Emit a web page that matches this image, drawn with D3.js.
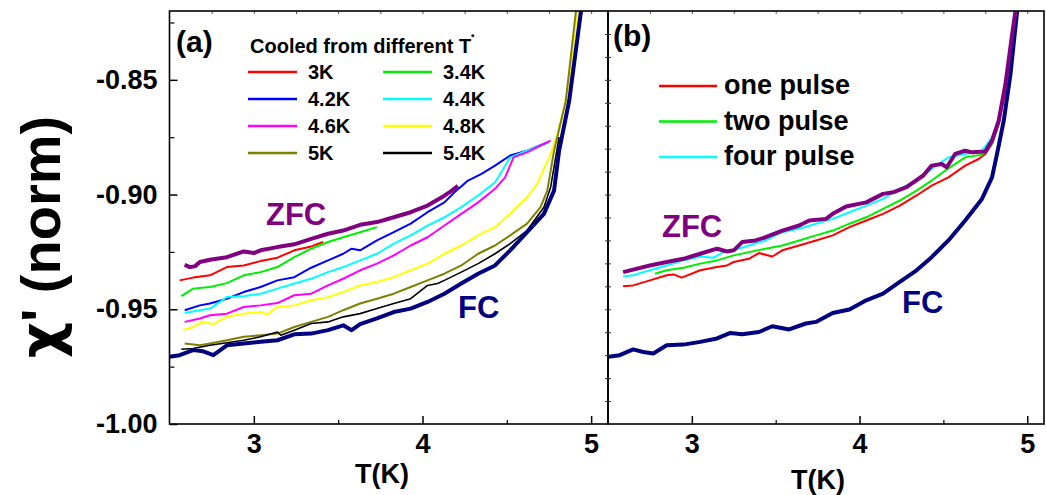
<!DOCTYPE html>
<html>
<head>
<meta charset="utf-8">
<script src="https://cdn.jsdelivr.net/npm/d3@7"></script>
<style>
  body { margin: 0; background: #fff; }
  svg text { font-family: "Liberation Sans", Arial, sans-serif; font-weight: bold; }
</style>
</head>
<body>
<svg id="chart" width="1046" height="495"></svg>
<script>
// ---- data: [T (K), chi' (norm)] ----
// panel (a): cooled from different T*
let zfcA = [[2.59,-0.9306],[2.62,-0.9316],[2.65,-0.9313],[2.68,-0.9294],[2.74,-0.9284],[2.84,-0.9273],[2.94,-0.9248],[3.0,-0.9255],[3.04,-0.9243],[3.14,-0.9229],[3.24,-0.9217],[3.34,-0.9193],[3.44,-0.9171],[3.53,-0.9157],[3.63,-0.9132],[3.73,-0.912],[3.83,-0.9099],[3.93,-0.9077],[4.03,-0.9048],[4.13,-0.9005],[4.17,-0.8985],[4.21,-0.8962]];
let fcA = [[2.5,-0.9707],[2.56,-0.97],[2.64,-0.9678],[2.7,-0.9683],[2.76,-0.97],[2.84,-0.9657],[2.94,-0.9649],[3.04,-0.9642],[3.14,-0.9635],[3.24,-0.9609],[3.34,-0.9606],[3.44,-0.9591],[3.53,-0.957],[3.58,-0.9591],[3.63,-0.9565],[3.73,-0.954],[3.83,-0.9512],[3.93,-0.9497],[4.03,-0.9468],[4.13,-0.9432],[4.23,-0.9388],[4.33,-0.9345],[4.43,-0.9309],[4.52,-0.9243],[4.62,-0.9164],[4.72,-0.9084],[4.78,-0.8983],[4.81,-0.8809],[4.87,-0.8591],[4.94,-0.82]];
let t3K = [[2.56,-0.9374],[2.64,-0.9362],[2.74,-0.9352],[2.84,-0.9316],[2.94,-0.9309],[3.04,-0.929],[3.14,-0.9275],[3.24,-0.9243],[3.34,-0.9226],[3.41,-0.9207]];
let t34K = [[2.57,-0.9443],[2.64,-0.941],[2.74,-0.9403],[2.84,-0.9386],[2.94,-0.9352],[3.04,-0.9338],[3.14,-0.9316],[3.24,-0.9273],[3.34,-0.9236],[3.44,-0.9207],[3.53,-0.9186],[3.63,-0.9164],[3.73,-0.9142]];
let t42K = [[2.59,-0.9504],[2.68,-0.9483],[2.74,-0.9475],[2.84,-0.9454],[2.94,-0.9425],[3.04,-0.9403],[3.14,-0.9374],[3.24,-0.936],[3.34,-0.9319],[3.44,-0.9287],[3.53,-0.9258],[3.58,-0.9236],[3.63,-0.9243],[3.73,-0.92],[3.83,-0.9164],[3.93,-0.9127],[4.03,-0.9077],[4.13,-0.9034],[4.19,-0.899],[4.27,-0.8939],[4.35,-0.891],[4.43,-0.8874],[4.52,-0.883],[4.62,-0.8809],[4.74,-0.8773]];
let t44K = [[2.59,-0.9516],[2.68,-0.9504],[2.74,-0.9497],[2.84,-0.9447],[2.94,-0.9443],[3.04,-0.9432],[3.14,-0.941],[3.24,-0.9388],[3.34,-0.9367],[3.44,-0.9338],[3.53,-0.9316],[3.63,-0.9287],[3.73,-0.9258],[3.83,-0.9214],[3.93,-0.9178],[4.03,-0.9135],[4.13,-0.9099],[4.23,-0.9055],[4.33,-0.9004],[4.43,-0.8947],[4.52,-0.8838],[4.62,-0.8809],[4.75,-0.8773]];
let t46K = [[2.59,-0.9555],[2.68,-0.954],[2.74,-0.9526],[2.84,-0.9519],[2.94,-0.949],[3.04,-0.9483],[3.14,-0.9473],[3.24,-0.9439],[3.34,-0.9432],[3.44,-0.9396],[3.53,-0.9367],[3.63,-0.933],[3.73,-0.9301],[3.83,-0.9265],[3.93,-0.9222],[4.03,-0.9186],[4.13,-0.9135],[4.23,-0.9084],[4.33,-0.9034],[4.43,-0.8975],[4.49,-0.8925],[4.54,-0.8838],[4.62,-0.8816],[4.7,-0.8787],[4.76,-0.8765]];
let t48K = [[2.58,-0.9591],[2.64,-0.9577],[2.7,-0.9555],[2.76,-0.9565],[2.84,-0.9533],[2.94,-0.9519],[3.04,-0.9512],[3.08,-0.9522],[3.14,-0.949],[3.24,-0.9483],[3.34,-0.9461],[3.44,-0.9447],[3.53,-0.9425],[3.63,-0.9396],[3.73,-0.9381],[3.83,-0.936],[3.93,-0.933],[4.03,-0.9301],[4.13,-0.9258],[4.23,-0.9222],[4.33,-0.9178],[4.43,-0.9142],[4.52,-0.9084],[4.62,-0.9012],[4.68,-0.8954],[4.76,-0.8823],[4.8,-0.8736],[4.84,-0.862],[4.88,-0.8447],[4.92,-0.82]];
let t5K = [[2.59,-0.9649],[2.68,-0.9657],[2.74,-0.9649],[2.84,-0.9635],[2.94,-0.962],[3.04,-0.9613],[3.14,-0.9606],[3.24,-0.9577],[3.34,-0.9555],[3.44,-0.9533],[3.53,-0.9504],[3.63,-0.9475],[3.73,-0.9454],[3.83,-0.9432],[3.93,-0.9403],[4.03,-0.9374],[4.13,-0.9345],[4.23,-0.9309],[4.33,-0.9258],[4.43,-0.9222],[4.52,-0.9178],[4.62,-0.9127],[4.7,-0.9055],[4.74,-0.8983],[4.78,-0.8809],[4.85,-0.8591],[4.91,-0.82]];
let t54K = [[2.57,-0.9674],[2.64,-0.9671],[2.74,-0.9657],[2.84,-0.9646],[2.94,-0.9635],[3.04,-0.962],[3.14,-0.9599],[3.16,-0.9613],[3.24,-0.9591],[3.34,-0.9562],[3.44,-0.9555],[3.53,-0.9533],[3.63,-0.9519],[3.73,-0.9497],[3.83,-0.9475],[3.93,-0.9454],[4.03,-0.9396],[4.09,-0.9388],[4.13,-0.9374],[4.23,-0.9338],[4.33,-0.9301],[4.43,-0.9258],[4.52,-0.9214],[4.62,-0.9157],[4.72,-0.9055],[4.76,-0.8968],[4.81,-0.875]];

// panel (b): pulses
let zfcB = [[2.59,-0.9338],[2.65,-0.9327],[2.75,-0.9309],[2.85,-0.9294],[2.95,-0.928],[3.05,-0.9258],[3.15,-0.9236],[3.21,-0.9248],[3.25,-0.9243],[3.3,-0.9207],[3.38,-0.92],[3.44,-0.9186],[3.54,-0.9157],[3.64,-0.9135],[3.7,-0.9113],[3.8,-0.9106],[3.84,-0.9084],[3.92,-0.9052],[4.04,-0.9034],[4.14,-0.8997],[4.2,-0.899],[4.28,-0.8968],[4.38,-0.8917],[4.43,-0.8874],[4.49,-0.8867],[4.52,-0.8881],[4.57,-0.8823],[4.63,-0.8809],[4.67,-0.8816],[4.75,-0.8812],[4.79,-0.8765],[4.83,-0.8678],[4.87,-0.8519],[4.91,-0.8301],[4.93,-0.82]];
let fcB = [[2.5,-0.9707],[2.57,-0.97],[2.65,-0.9675],[2.71,-0.9686],[2.77,-0.9693],[2.85,-0.9657],[2.95,-0.9654],[3.05,-0.9642],[3.15,-0.9627],[3.23,-0.9603],[3.3,-0.9609],[3.4,-0.9599],[3.48,-0.9574],[3.58,-0.9588],[3.68,-0.9562],[3.74,-0.9555],[3.84,-0.9516],[3.94,-0.9501],[4.04,-0.9461],[4.14,-0.9432],[4.24,-0.9381],[4.34,-0.933],[4.43,-0.9273],[4.53,-0.92],[4.63,-0.9113],[4.73,-0.9019],[4.79,-0.8925],[4.82,-0.8823],[4.86,-0.8678],[4.9,-0.8475],[4.94,-0.82]];
let onePulse = [[2.59,-0.94],[2.65,-0.9396],[2.75,-0.9374],[2.85,-0.9352],[2.89,-0.9348],[2.94,-0.9362],[3.05,-0.933],[3.15,-0.9316],[3.21,-0.9309],[3.25,-0.9294],[3.34,-0.928],[3.4,-0.9255],[3.48,-0.927],[3.54,-0.9243],[3.64,-0.9222],[3.74,-0.92],[3.84,-0.9178],[3.94,-0.9142],[4.04,-0.9113],[4.14,-0.9084],[4.24,-0.9048],[4.34,-0.9004],[4.43,-0.8961],[4.53,-0.8925],[4.63,-0.8874],[4.71,-0.8845],[4.75,-0.8823],[4.79,-0.8779],[4.83,-0.8693],[4.87,-0.8548]];
let twoPulse = [[2.78,-0.9345],[2.85,-0.933],[2.95,-0.9319],[3.05,-0.9301],[3.15,-0.9287],[3.25,-0.9265],[3.34,-0.9251],[3.44,-0.9236],[3.54,-0.9222],[3.64,-0.92],[3.74,-0.9178],[3.84,-0.9157],[3.94,-0.9127],[4.04,-0.9099],[4.14,-0.9062],[4.24,-0.9026],[4.34,-0.8983],[4.43,-0.8939],[4.51,-0.8896],[4.63,-0.8838],[4.73,-0.8826],[4.79,-0.8779],[4.84,-0.8664]];
let fourPulse = [[2.59,-0.9357],[2.65,-0.9352],[2.75,-0.933],[2.85,-0.9309],[2.95,-0.9287],[3.05,-0.927],[3.13,-0.9275],[3.19,-0.9251],[3.25,-0.9243],[3.34,-0.9222],[3.44,-0.92],[3.54,-0.9164],[3.64,-0.9149],[3.74,-0.9127],[3.84,-0.9106],[3.94,-0.9077],[4.04,-0.9048],[4.14,-0.9019],[4.24,-0.8975],[4.34,-0.8939],[4.43,-0.8888],[4.53,-0.8838],[4.63,-0.8823],[4.73,-0.8809],[4.79,-0.8751],[4.84,-0.8649],[4.88,-0.8475]];

let legendA = ["3K","3.4K","4.2K","4.4K","4.6K","4.8K","5K","5.4K"];
let legendB = ["one pulse","two pulse","four pulse"];
let yMajor = [-1.0,-0.95,-0.9,-0.85];
let yMinor = [-0.975,-0.925,-0.875,-0.825];
let xMajor = [3,4,5];
let xMinor = [3.5,4.5];

// ---- layout ----
let svg = d3.select("#chart");
let yTop = 11, yBottom = 424;
let tDomain = [2.5, 5.1];
let y = d3.scaleLinear().domain([-1.0, -0.82]).range([yBottom, yTop]);
let xA = d3.scaleLinear().domain(tDomain).range([169.5, 608]);
let xB = d3.scaleLinear().domain(tDomain).range([608, 1044]);

let seriesA = [
	{data: t3K, color: "#ff0000", w: 2},
	{data: t34K, color: "#00ee00", w: 2},
	{data: t42K, color: "#0000ff", w: 2},
	{data: t44K, color: "#00ffff", w: 2},
	{data: t46K, color: "#ff00ff", w: 2},
	{data: t48K, color: "#ffff00", w: 2},
	{data: t5K, color: "#808000", w: 2},
	{data: t54K, color: "#000000", w: 1.6},
	{data: zfcA, color: "#800080", w: 4},
	{data: fcA, color: "#000080", w: 4}
];
let seriesB = [
	{data: onePulse, color: "#ff0000", w: 2},
	{data: twoPulse, color: "#00ee00", w: 2},
	{data: fourPulse, color: "#00ffff", w: 2},
	{data: fcB, color: "#000080", w: 4},
	{data: zfcB, color: "#800080", w: 4}
];

function fmt(d) { return d3.format(".2f")(d).replace("\u2212", "-"); }

function drawPanel(x, series, id) {
	svg.append("clipPath").attr("id", "clip" + id)
		.append("rect")
		.attr("x", x.range()[0]).attr("y", yTop)
		.attr("width", x.range()[1] - x.range()[0]).attr("height", yBottom - yTop);

	let line = d3.line()
		.x(function(d) { return x(d[0]); })
		.y(function(d) { return y(d[1]); });

	svg.append("g")
		.attr("clip-path", "url(#clip" + id + ")")
		.selectAll("path")
		.data(series)
		.enter().append("path")
		.attr("d", function(d) { return line(d.data); })
		.attr("fill", "none")
		.attr("stroke", function(d) { return d.color; })
		.attr("stroke-width", function(d) { return d.w; })
		.attr("stroke-linejoin", "round");

	// bottom axis, ticks pointing in
	svg.append("g")
		.attr("transform", "translate(0," + yBottom + ")")
		.call(d3.axisBottom(x).tickValues(xMajor).tickSize(-8).tickPadding(10).tickFormat(d3.format("d")))
		.call(function(g) {
			g.select(".domain").remove();
			g.selectAll("line").attr("stroke-width", 1.5);
			g.selectAll("text").style("font-size", "27px").attr("font-family", null).attr("fill", "#000");
		});
	svg.append("g")
		.attr("transform", "translate(0," + yBottom + ")")
		.call(d3.axisBottom(x).tickValues(xMinor).tickSize(-4).tickFormat(""))
		.call(function(g) { g.select(".domain").remove(); g.selectAll("line").attr("stroke-width", 1.2); });

	// top ticks
	svg.append("g")
		.attr("transform", "translate(0," + yTop + ")")
		.call(d3.axisTop(x).tickValues(d3.range(2.75, 5.01, 0.25)).tickSize(-3).tickFormat(""))
		.call(function(g) { g.select(".domain").remove(); g.selectAll("line").attr("stroke", "#555"); });

	// frame
	svg.append("rect")
		.attr("x", x.range()[0]).attr("y", yTop)
		.attr("width", x.range()[1] - x.range()[0]).attr("height", yBottom - yTop)
		.attr("fill", "none").attr("stroke", "#000").attr("stroke-width", 1.6);
}

drawPanel(xA, seriesA, "a");
drawPanel(xB, seriesB, "b");

// left axis of panel (a)
svg.append("g")
	.attr("transform", "translate(169.5,0)")
	.call(d3.axisLeft(y).tickValues(yMajor).tickSize(-8).tickPadding(12).tickFormat(fmt))
	.call(function(g) {
		g.select(".domain").remove();
		g.selectAll("line").attr("stroke-width", 1.5);
		g.selectAll("text").style("font-size", "27px").attr("font-family", null).attr("fill", "#000");
	});
svg.append("g")
	.attr("transform", "translate(169.5,0)")
	.call(d3.axisLeft(y).tickValues(yMinor).tickSize(-5).tickFormat(""))
	.call(function(g) { g.select(".domain").remove(); g.selectAll("line").attr("stroke-width", 1.2); });

// small ticks on the shared edge (panel b left axis)
svg.append("g")
	.attr("transform", "translate(611,0)")
	.call(d3.axisLeft(y).tickValues(d3.range(-0.99, -0.821, 0.01)).tickSize(6).tickFormat(""))
	.call(function(g) { g.select(".domain").remove(); g.selectAll("line").attr("stroke", "#333"); });

// axis titles
let yTitle = svg.append("text")
	.attr("transform", "translate(60,237) rotate(-90)")
	.style("text-anchor", "middle")
	.style("font-size", "56px");
yTitle.append("tspan").style("font-family", "'DejaVu Sans', sans-serif").text("\u03c7");
yTitle.append("tspan").text("' (norm)");

svg.append("text").attr("x", 382).attr("y", 483).style("text-anchor", "middle").style("font-size", "27px").text("T(K)");
svg.append("text").attr("x", 818).attr("y", 489).style("text-anchor", "middle").style("font-size", "27px").text("T(K)");

// panel labels
svg.append("text").attr("x", 176).attr("y", 52).style("font-size", "30px").text("(a)");
svg.append("text").attr("x", 613).attr("y", 46).style("font-size", "30px").text("(b)");

// ZFC / FC labels
svg.append("text").attr("x", 266).attr("y", 225).style("font-size", "31px").attr("fill", "#800080").text("ZFC");
svg.append("text").attr("x", 458).attr("y", 318).style("font-size", "31px").attr("fill", "#000080").text("FC");
svg.append("text").attr("x", 662).attr("y", 237).style("font-size", "31px").attr("fill", "#800080").text("ZFC");
svg.append("text").attr("x", 902).attr("y", 313).style("font-size", "31px").attr("fill", "#000080").text("FC");

// legend (a)
let titleA = svg.append("text").attr("x", 250).attr("y", 53).style("font-size", "20px");
titleA.append("tspan").text("Cooled from different T");
titleA.append("tspan").attr("dy", -13).style("font-size", "9px").text("*");

let legA = svg.append("g").selectAll("g")
	.data(legendA)
	.enter().append("g")
	.attr("transform", function(d, i) {
		return "translate(" + (i % 2 === 0 ? 248 : 383) + "," + (72 + Math.floor(i / 2) * 27) + ")";
	});
legA.append("line")
	.attr("x1", 0).attr("x2", 49)
	.attr("stroke", function(d, i) { return seriesA[i].color; })
	.attr("stroke-width", 2.5);
legA.append("text")
	.attr("x", 60).attr("y", 7)
	.style("font-size", "20px")
	.text(function(d) { return d; });

// legend (b)
let legB = svg.append("g").selectAll("g")
	.data(legendB)
	.enter().append("g")
	.attr("transform", function(d, i) { return "translate(659," + (86 + i * 35.5) + ")"; });
legB.append("line")
	.attr("x1", 0).attr("x2", 58)
	.attr("stroke", function(d, i) { return seriesB[i].color; })
	.attr("stroke-width", 2.5);
legB.append("text")
	.attr("x", 65).attr("y", 8)
	.style("font-size", "27px")
	.text(function(d) { return d; });
</script>
</body>
</html>
